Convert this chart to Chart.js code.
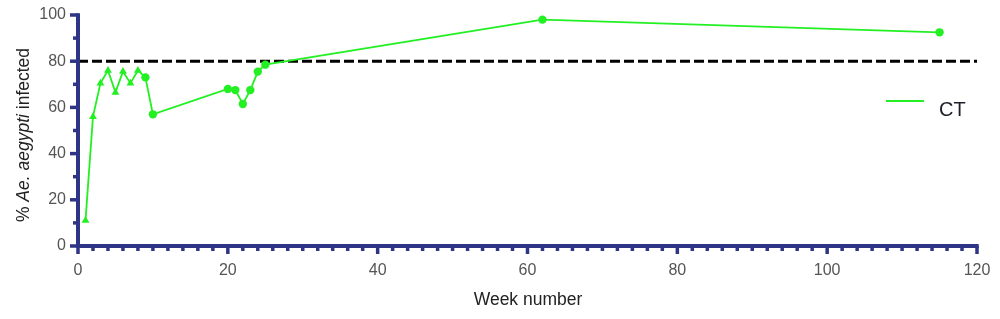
<!DOCTYPE html>
<html>
<head>
<meta charset="utf-8">
<script src="https://cdn.jsdelivr.net/npm/chart.js@4"></script>
<style>
html,body{margin:0;padding:0;background:#fff;}
#wrap{width:1000px;height:319px;}
</style>
</head>
<body>
<div id="wrap"><canvas id="c" width="1000" height="319"></canvas></div>
<script>
const weeks = [1, 2, 3, 4, 5, 6, 7, 8, 9, 10, 20, 21, 22, 23, 24, 25, 62, 115];
const infected = [11, 56, 70.5, 76, 66.5, 75.5, 70.5, 76, 73, 57, 68, 67.5, 61.5, 67.5, 75.5, 78.5, 98, 92.5];
const markers = ['triangle','triangle','triangle','triangle','triangle','triangle','triangle','triangle','circle','circle','circle','circle','circle','circle','circle','circle','circle','circle'];
const thresholdX = [0, 120];
const thresholdY = [80, 80];
const seriesName = 'CT';
const xTicks = [0, 20, 40, 60, 80, 100, 120];
const yTicks = [0, 20, 40, 60, 80, 100];

const NAVY = '#2e3586';
const GREEN = '#22f022';
const FONT = '"Liberation Sans", Arial, sans-serif';

const extras = {
  id: 'extras',
  afterDraw(chart) {
    const ctx = chart.ctx;
    const xs = chart.scales.x, ys = chart.scales.y;
    const L = chart.chartArea.left, B = chart.chartArea.bottom;
    ctx.save();
    ctx.strokeStyle = NAVY;
    ctx.lineWidth = 3.5;
    ctx.lineCap = 'butt';
    for (let v = 0; v <= 100; v += 10) {
      const y = ys.getPixelForValue(v);
      const len = v % 20 === 0 ? 8 : 5;
      ctx.beginPath(); ctx.moveTo(L, y); ctx.lineTo(L - len, y); ctx.stroke();
    }
    for (let v = 0; v <= 120; v += 2) {
      const x = xs.getPixelForValue(v);
      const len = v % 20 === 0 ? 8 : 5;
      ctx.beginPath(); ctx.moveTo(x, B); ctx.lineTo(x, B + len); ctx.stroke();
    }
    ctx.lineWidth = 4;
    ctx.beginPath();
    ctx.moveTo(L, ys.getPixelForValue(100) - 1.7);
    ctx.lineTo(L, B);
    ctx.lineTo(xs.getPixelForValue(120) + 1.7, B);
    ctx.stroke();

    const parts = [['% ', 'normal'], ['Ae. aegypti', 'italic'], [' infected', 'normal']];
    const TS = '17.5px ';
    ctx.fillStyle = '#222';
    ctx.textBaseline = 'middle';
    let total = 0;
    for (const [t, s] of parts) { ctx.font = s + ' ' + TS + FONT; total += ctx.measureText(t).width; }
    ctx.translate(24, 135);
    ctx.rotate(-Math.PI / 2);
    let cx = -total / 2;
    ctx.textAlign = 'left';
    for (const [t, s] of parts) {
      ctx.font = s + ' ' + TS + FONT;
      ctx.fillText(t, cx, 0);
      cx += ctx.measureText(t).width;
    }
    ctx.setTransform(1, 0, 0, 1, 0, 0);

    ctx.font = TS + FONT;
    ctx.textAlign = 'center';
    ctx.textBaseline = 'alphabetic';
    ctx.fillStyle = '#222';
    ctx.fillText('Week number', 528, 305);

    ctx.strokeStyle = GREEN;
    ctx.lineWidth = 2.2;
    ctx.beginPath(); ctx.moveTo(886, 101); ctx.lineTo(924, 101); ctx.stroke();
    ctx.font = '20px ' + FONT;
    ctx.textAlign = 'left';
    ctx.fillStyle = '#1e1e2a';
    ctx.fillText(seriesName, 939, 116);
    ctx.restore();
  }
};

new Chart(document.getElementById('c'), {
  type: 'scatter',
  data: {
    datasets: [
      {
        label: 'threshold',
        data: thresholdX.map((x, i) => ({x, y: thresholdY[i]})),
        showLine: true,
        borderColor: '#000',
        borderWidth: 3,
        borderDash: [10, 4],
        pointRadius: 0,
        order: 2
      },
      {
        label: seriesName,
        data: weeks.map((w, i) => ({x: w, y: infected[i]})),
        showLine: true,
        borderColor: GREEN,
        backgroundColor: GREEN,
        borderWidth: 1.8,
        pointStyle: markers,
        pointRadius: markers.map(m => m === 'triangle' ? 4.5 : 4.2),
        pointBorderWidth: 0,
        order: 1
      }
    ]
  },
  options: {
    responsive: false,
    animation: false,
    devicePixelRatio: 1,
    layout: { padding: { top: 15, right: 23, left: 0, bottom: 0 } },
    plugins: { legend: { display: false }, tooltip: { enabled: false } },
    scales: {
      x: {
        type: 'linear', min: 0, max: 120,
        afterBuildTicks: s => { s.ticks = xTicks.map(v => ({value: v})); },
        afterFit: s => { s.height = 73; s.paddingLeft = 0; s.paddingRight = 0; },
        border: { display: false },
        grid: { display: false, drawTicks: false },
        ticks: { padding: 15, color: '#555', font: { family: FONT, size: 16 } }
      },
      y: {
        type: 'linear', min: 0, max: 100,
        afterBuildTicks: s => { s.ticks = yTicks.map(v => ({value: v})); },
        afterFit: s => { s.width = 78; s.paddingTop = 0; s.paddingBottom = 0; },
        border: { display: false },
        grid: { display: false, drawTicks: false },
        ticks: { padding: 12, color: '#555', font: { family: FONT, size: 16 } }
      }
    }
  },
  plugins: [extras]
});
</script>
</body>
</html>
